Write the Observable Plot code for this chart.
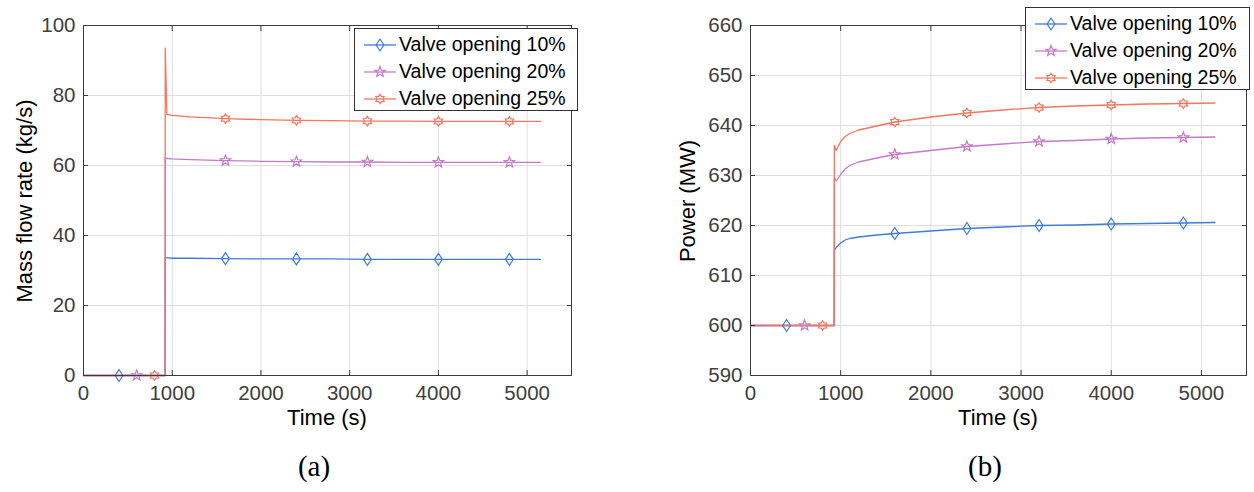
<!DOCTYPE html>
<html><head><meta charset="utf-8">
<script src="https://cdn.jsdelivr.net/npm/d3@7"></script>
<script src="https://cdn.jsdelivr.net/npm/@observablehq/plot@0.6"></script>
<style>
body{margin:0;background:#fff;font-family:"Liberation Sans",Arial,sans-serif;}
#root{position:relative;width:1254px;height:492px;overflow:hidden;background:#fff;}
.chart{position:absolute;top:0;}
.lbl{position:absolute;font-size:22px;color:#000;white-space:nowrap;transform:translate(-50%,-50%);line-height:1;}
.lblv{transform:translate(-50%,-50%) rotate(-90deg);}
.cap{position:absolute;font-family:"Liberation Serif","DejaVu Serif",serif;font-size:29px;color:#000;transform:translate(-50%,-50%);line-height:1;}
.legend{position:absolute;border:1px solid #333;background:#fff;box-sizing:border-box;padding:2px 8px 0 9px;}
.legend .row{display:flex;align-items:center;height:27px;font-size:19.5px;color:#000;white-space:nowrap;}
.legend svg{margin-right:3px;}
</style></head><body><div id="root"></div>
<script>
// ---------- data ----------
const seriesNames = ["Valve opening 10%", "Valve opening 20%", "Valve opening 25%"];
const seriesColors = ["#3f7bd8", "#c47ac8", "#f5765e"];

// (a) mass flow rate
const timeA   = [0, 400, 600, 800, 920, 921, 940, 1000, 1200, 1600, 2000, 2400, 2800, 3200, 3600, 4000, 4400, 4800, 5150];
const flow10  = [0, 0, 0, 0, 0, 33.6, 33.6, 33.5, 33.5, 33.4, 33.3, 33.3, 33.3, 33.2, 33.2, 33.2, 33.2, 33.2, 33.2];
const flow20  = [0, 0, 0, 0, 0, 62.3, 62.0, 61.9, 61.7, 61.4, 61.2, 61.1, 61.0, 61.0, 60.9, 60.9, 60.9, 60.9, 60.9];
const flow25  = [0, 0, 0, 0, 0, 93.5, 74.6, 74.3, 73.9, 73.4, 73.1, 72.9, 72.8, 72.7, 72.7, 72.6, 72.6, 72.6, 72.6];

// (b) power
const timeB   = [0, 400, 600, 800, 928, 930, 950, 1000, 1050, 1100, 1200, 1400, 1600, 2000, 2400, 2800, 3200, 3600, 4000, 4400, 4800, 5150];
const power10 = [600, 600, 600, 600, 600, 615.0, 615.6, 616.5, 617.1, 617.4, 617.7, 618.1, 618.4, 618.9, 619.4, 619.7, 620.0, 620.1, 620.3, 620.4, 620.5, 620.6];
const power20 = [600, 600, 600, 600, 600, 629.5, 628.9, 630.2, 631.3, 632.0, 632.7, 633.5, 634.2, 635.0, 635.8, 636.3, 636.8, 637.0, 637.3, 637.5, 637.6, 637.7];
const power25 = [600, 600, 600, 600, 600, 636.0, 635.0, 636.8, 637.8, 638.4, 639.1, 639.9, 640.7, 641.7, 642.5, 643.1, 643.6, 643.9, 644.1, 644.3, 644.4, 644.5];

// marker positions (time) per series
const markerTimes = [
  [400, 1600, 2400, 3200, 4000, 4800],
  [600, 1600, 2400, 3200, 4000, 4800],
  [800, 1600, 2400, 3200, 4000, 4800]
];

// ticks
const xTicks  = [0, 1000, 2000, 3000, 4000, 5000];
const yTicksA = [0, 20, 40, 60, 80, 100];
const yTicksB = [590, 600, 610, 620, 630, 640, 650, 660];

// ---------- symbols ----------
const tallDiamond = {draw(ctx, size) {
  const r = Math.sqrt(size / Math.PI);
  const w = r * 0.78, h = r * 1.2;
  ctx.moveTo(0, -h); ctx.lineTo(w, 0); ctx.lineTo(0, h); ctx.lineTo(-w, 0); ctx.closePath();
}};
const star5 = {draw(ctx, size) {
  const r = Math.sqrt(size / Math.PI) * 1.1, ri = r * 0.42;
  for (let i = 0; i < 10; i++) {
    const a = -Math.PI / 2 + i * Math.PI / 5, rr = i % 2 ? ri : r;
    const x = rr * Math.cos(a), y = rr * Math.sin(a);
    i ? ctx.lineTo(x, y) : ctx.moveTo(x, y);
  }
  ctx.closePath();
}};
const hexagram = {draw(ctx, size) {
  const r = Math.sqrt(size / Math.PI) * 0.95, ri = r * 0.62;
  for (let i = 0; i < 12; i++) {
    const a = -Math.PI / 2 + i * Math.PI / 6, rr = i % 2 ? ri : r;
    const x = rr * Math.cos(a), y = rr * Math.sin(a);
    i ? ctx.lineTo(x, y) : ctx.moveTo(x, y);
  }
  ctx.closePath();
}};
const seriesSymbols = [tallDiamond, star5, hexagram];

// ---------- build rows ----------
function rowsFor(times, valueArrays) {
  return valueArrays.map((vals, s) => times.map((t, i) => ({t, v: vals[i], s})));
}
const rowsA = rowsFor(timeA, [flow10, flow20, flow25]);
const rowsB = rowsFor(timeB, [power10, power20, power25]);
function markersFor(rows) {
  return rows.map((r, s) => r.filter(d => markerTimes[s].includes(d.t)));
}

const axisColor = "#3c3c3c";
const gridColor = "#dedede";
const fmt = d => String(d);

function makeChart(rows, yDomain, yTicks, margins) {
  const marks = [
    Plot.gridX(xTicks.slice(1), {stroke: gridColor, strokeOpacity: 1}),
    Plot.gridY(yTicks.slice(1, -1), {stroke: gridColor, strokeOpacity: 1})
  ];
  const mk = markersFor(rows);
  rows.forEach((r, s) => {
    marks.push(Plot.line(r, {x: "t", y: "v", stroke: seriesColors[s], strokeWidth: 1.3}));
  });
  rows.forEach((r, s) => {
    marks.push(Plot.dot(mk[s], {x: "t", y: "v", stroke: seriesColors[s], symbol: seriesSymbols[s], r: 5, fill: "none", strokeWidth: 1.2}));
  });
  marks.push(
    Plot.frame({stroke: axisColor, strokeWidth: 1}),
    Plot.axisX(xTicks, {anchor: "bottom", tickSize: -5, tickPadding: 15, tickFormat: fmt, label: null, stroke: axisColor, fill: "#404040"}),
    Plot.axisX(xTicks, {anchor: "top", tickSize: -5, tickFormat: () => "", label: null, stroke: axisColor}),
    Plot.axisY(yTicks, {anchor: "left", tickSize: -5, tickPadding: 13, tickFormat: fmt, label: null, stroke: axisColor, fill: "#404040"}),
    Plot.axisY(yTicks, {anchor: "right", tickSize: -5, tickFormat: () => "", label: null, stroke: axisColor})
  );
  return Plot.plot({
    width: 627, height: 430,
    ...margins,
    x: {domain: [0, 5500]},
    y: {domain: yDomain},
    style: {fontFamily: "'Liberation Sans', Arial, sans-serif", fontSize: "20.5px", background: "transparent", overflow: "visible"},
    marks
  });
}

const root = document.getElementById("root");
function place(el, left) { el.classList.add("chart"); el.style.left = left + "px"; root.appendChild(el); }

place(makeChart(rowsA, [0, 100], yTicksA, {marginLeft: 83, marginRight: 56, marginTop: 25, marginBottom: 55}), 0);
place(makeChart(rowsB, [590, 660], yTicksB, {marginLeft: 123, marginRight: 8, marginTop: 25, marginBottom: 55}), 627);

function addLabel(text, x, y, cls) {
  const d = document.createElement("div");
  d.className = cls; d.textContent = text;
  d.style.left = x + "px"; d.style.top = y + "px";
  root.appendChild(d);
}
addLabel("Mass flow rate (kg/s)", 25, 201, "lbl lblv");
addLabel("Power (MW)", 688, 201, "lbl lblv");
addLabel("Time (s)", 327, 418, "lbl");
addLabel("Time (s)", 998, 418, "lbl");
addLabel("(a)", 314, 466, "cap");
addLabel("(b)", 985, 466, "cap");

function symbolPath(sym, r) {
  const p = d3.path(); sym.draw(p, Math.PI * r * r); return p.toString();
}
function addLegend(left, top, width, height) {
  const box = document.createElement("div");
  box.className = "legend";
  Object.assign(box.style, {left: left + "px", top: top + "px", width: width + "px", height: height + "px"});
  seriesNames.forEach((name, s) => {
    const row = document.createElement("div"); row.className = "row";
    row.innerHTML = `<svg width="32" height="18" viewBox="0 0 32 18"><line x1="0" x2="32" y1="9" y2="9" stroke="${seriesColors[s]}" stroke-width="1.3"/><path transform="translate(16,9)" d="${symbolPath(seriesSymbols[s], 5)}" fill="none" stroke="${seriesColors[s]}" stroke-width="1.2"/></svg><span>${name}</span>`;
    box.appendChild(row);
  });
  root.appendChild(box);
}
addLegend(354, 28, 224, 83);
addLegend(1025, 7, 225, 83);
</script></body></html>
